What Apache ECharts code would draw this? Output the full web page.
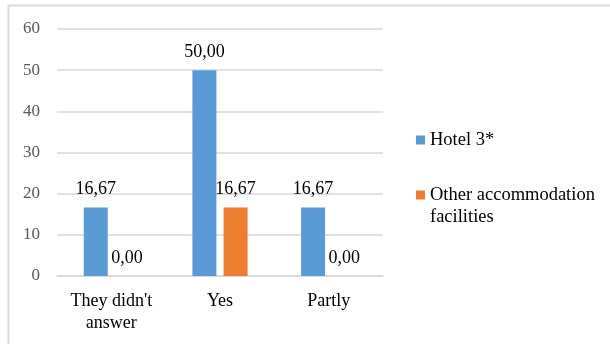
<!DOCTYPE html>
<html>
<head>
<meta charset="utf-8">
<script src="https://cdn.jsdelivr.net/npm/echarts@6/dist/echarts.min.js"></script>
<style>
  html, body { margin: 0; padding: 0; background: #fff; }
  #chart { width: 610px; height: 344px; }
</style>
</head>
<body>
<div id="chart"></div>
<script>
// Survey answers by type of accommodation (percent)
const categories = ["They didn't\nanswer", "Yes", "Partly"];
const seriesNames = ["Hotel 3*", "Other accommodation\nfacilities"];
const hotelValues = [16.67, 50.00, 16.67];
const otherValues = [0.00, 16.67, 0.00];
const yTicks = [0, 10, 20, 30, 40, 50, 60];

const serif = 'Times New Roman, Liberation Serif, serif';
const fmt = p => p.value.toFixed(2).replace('.', ',');

const chart = echarts.init(document.getElementById('chart'), null, { renderer: 'canvas' });

const labelStyle = {
  show: true,
  position: 'top',
  distance: 9,
  formatter: fmt,
  fontFamily: serif,
  fontSize: 18,
  color: '#000'
};

chart.setOption({
  animation: false,
  textStyle: { fontFamily: serif },
  graphic: [
    {
      type: 'rect',
      shape: { x: 8.5, y: 5.5, width: 620, height: 360 },
      style: { fill: 'none', stroke: '#d9d9d9', lineWidth: 2 },
      silent: true
    }
  ],
  grid: { left: 57, right: 227, top: 29, bottom: 68, containLabel: false },
  legend: {
    orient: 'vertical',
    left: 416,
    top: 129,
    padding: 0,
    itemWidth: 9,
    itemHeight: 9,
    itemGap: 11,
    icon: 'rect',
    // a leading empty line keeps the swatch level with the first line of a wrapped name
    formatter: name => (name.indexOf('\n') >= 0 ? '\n' + name : name),
    textStyle: { fontFamily: serif, fontSize: 18.5, color: '#000', lineHeight: 22 },
    data: seriesNames
  },
  xAxis: {
    type: 'category',
    data: categories,
    axisLine: { lineStyle: { color: '#d9d9d9', width: 1.5 } },
    axisTick: { show: false },
    axisLabel: { fontFamily: serif, fontSize: 18, color: '#000', lineHeight: 22, margin: 14 }
  },
  yAxis: {
    type: 'value',
    min: yTicks[0],
    max: yTicks[yTicks.length - 1],
    interval: 10,
    axisLine: { show: false },
    axisTick: { show: false },
    splitLine: { lineStyle: { color: '#d9d9d9', width: 1.5 } },
    axisLabel: { fontFamily: serif, fontSize: 17, color: '#595959', margin: 17 }
  },
  series: [
    {
      name: seriesNames[0],
      type: 'bar',
      data: hotelValues,
      barWidth: 24,
      barGap: '30%',
      itemStyle: { color: '#5b9bd5' },
      label: labelStyle
    },
    {
      name: seriesNames[1],
      type: 'bar',
      data: otherValues,
      barWidth: 24,
      barGap: '30%',
      itemStyle: { color: '#ed7d31' },
      label: labelStyle
    }
  ]
});
</script>
</body>
</html>
